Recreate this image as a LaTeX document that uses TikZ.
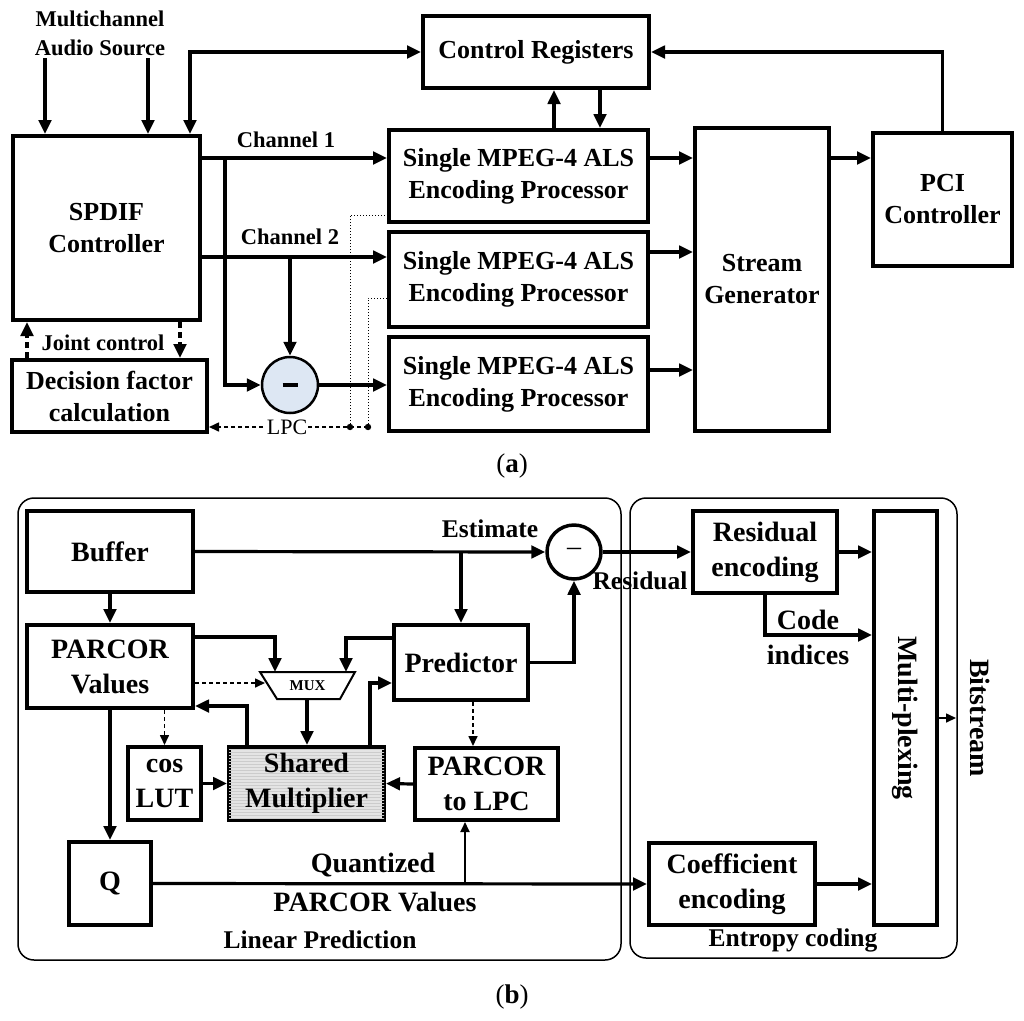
\documentclass[tikz,border=0pt]{standalone}
\usepackage{fontspec}
\setmainfont{Liberation Serif}
\usetikzlibrary{arrows.meta,patterns}
\definecolor{subfill}{RGB}{221,231,243}
\definecolor{mulfill}{RGB}{228,228,228}
\newcommand\ftop{\fontsize{26}{32}\selectfont\bfseries}
\newcommand\flab{\fontsize{22.5}{29}\selectfont\bfseries}
\newcommand\fbot{\fontsize{28}{35}\selectfont\bfseries}
\newcommand\fblab{\fontsize{25.5}{31}\selectfont\bfseries}
\newcommand\fmux{\fontsize{15}{18}\selectfont\bfseries}
\newcommand\flpc{\fontsize{22}{26}\selectfont}

\begin{document}
\begin{tikzpicture}[x=1pt,y=-1pt,
    >={Triangle[length=14pt,width=12.5pt]},
    blk/.style={draw,line width=4pt,align=center,inner sep=2pt},
    arr/.style={line width=3.2pt,->},
    darr/.style={line width=3.2pt,dash pattern=on 6pt off 4pt,->},
    thinarr/.style={line width=1.6pt,-{Triangle[length=10pt,width=9pt]}},
    tdash/.style={line width=1.6pt,dash pattern=on 4pt off 3pt,-{Triangle[length=10pt,width=9pt]}},
    dotline/.style={line width=1pt,dotted},
    frame/.style={line width=1.5pt,rounded corners=16pt},
    lab/.style={align=center,inner sep=1pt}]
\useasboundingbox (0,0) rectangle (1024,1020);

% (a)
\node[lab,font=\flab] (src) at (100,33) {Multichannel\\Audio Source};
\node[blk,font=\ftop,minimum width=187,minimum height=184] (spdif) at (106.5,228) {SPDIF\\Controller};
\node[blk,font=\ftop,minimum width=195,minimum height=72] (dfc) at (109.5,396) {Decision factor\\calculation};
\node[blk,font=\ftop,minimum width=226,minimum height=72] (cr) at (536,52) {Control Registers};
\node[blk,font=\ftop,minimum width=259,minimum height=92] (enc1) at (518.5,176) {Single MPEG-4 ALS\\Encoding Processor};
\node[blk,font=\ftop,minimum width=259,minimum height=95] (enc2) at (518.5,279.5) {Single MPEG-4 ALS\\Encoding Processor};
\node[blk,font=\ftop,minimum width=259,minimum height=94] (enc3) at (518.5,384) {Single MPEG-4 ALS\\Encoding Processor};
\node[blk,font=\ftop,minimum width=134,minimum height=303] (sg) at (762,279.5) {Stream\\Generator};
\node[blk,font=\ftop,minimum width=139,minimum height=133] (pci) at (942.5,199.5) {PCI\\Controller};
\node[circle,draw,line width=2.5pt,fill=subfill,minimum size=56,inner sep=0pt] (sub) at (290,385) {\rule[-2pt]{15pt}{4pt}};

\coordinate (in1) at (45,58);
\coordinate (in2) at (148,58);
\coordinate (ctl) at (190,100);
\coordinate (c1) at ([yshift=18pt]enc1.west);
\coordinate (c2) at ([yshift=22.5pt]enc2.west);
\coordinate (o2) at ([yshift=27.5pt]enc2.east);
\coordinate (o3) at ([yshift=14pt]enc3.east);
\coordinate (u1) at (554,110);
\coordinate (d1) at (600,110);
\coordinate (jc1) at (27,340);
\coordinate (jc2) at (180,340);
\coordinate (dot1) at (350,427);
\coordinate (dot2) at (368,427);
\path (spdif.east |- c1) ++(23,0) coordinate (j1);

\draw[arr] (in1) -- (in1 |- spdif.north);
\draw[arr] (in2) -- (in2 |- spdif.north);
\draw[arr,<->] (ctl |- spdif.north) |- (cr.west);
\draw[arr] (spdif.east |- c1) -- (c1);
\draw[arr] (j1) |- (sub.west);
\draw[arr] (spdif.east |- c2) -- (c2);
\draw[arr] (sub.north |- c2) -- (sub.north);
\draw[arr] (sub.east) -- (sub.east -| enc3.west);
\draw[arr] (c1 -| enc1.east) -- (c1 -| sg.west);
\draw[arr] (o2) -- (o2 -| sg.west);
\draw[arr] (o3) -- (o3 -| sg.west);
\draw[arr] (c1 -| sg.east) -- (c1 -| pci.west);
\draw[arr] (pci.north) |- (cr.east);
\draw[arr] (u1 |- enc1.north) -- (u1 |- cr.south);
\draw[arr] (d1 |- cr.south) -- (d1 |- enc1.north);
\draw[darr] (jc1 |- dfc.north) -- (jc1 |- spdif.south);
\draw[darr] (jc2 |- spdif.south) -- (jc2 |- dfc.north);
\draw[dotline] (dot1) |- ([yshift=-39pt]enc1.west);
\draw[dotline] (dot2) |- ([yshift=-18.5pt]enc2.west);
\draw[tdash] (dot2) -- (dfc.east |- dot2);
\fill (dot1) circle (3.2);
\fill (dot2) circle (3.2);

\node[lab,font=\flab] (ch1) at (286,140) {Channel 1};
\node[lab,font=\flab] (ch2) at (290,237) {Channel 2};
\node[lab,font=\flab] (jc) at (103,343) {Joint control};
\node[lab,font=\flpc,fill=white] (lpc) at (287,427) {LPC};
\node[lab,font=\fontsize{27}{30}\selectfont] (capa) at (512,466) {(\textbf{a})};

% (b)
\draw[frame] (18,498) rectangle (621,960);
\draw[frame] (630,498) rectangle (957,958);

\node[blk,font=\fbot,minimum width=166,minimum height=81] (buf) at (110,551.5) {Buffer};
\node[blk,font=\fbot,minimum width=166,minimum height=83] (pv) at (110,666.5) {PARCOR\\Values};
\node[blk,font=\fbot,minimum width=134,minimum height=75] (pred) at (461,662.5) {Predictor};
\node[blk,font=\fbot,minimum width=73,minimum height=73] (cos) at (164.5,783.5) {cos\\LUT};
\node[blk,font=\fbot,minimum width=155,minimum height=73,fill=mulfill,
      postaction={pattern=horizontal lines,pattern color=black!20}] (sm) at (306.5,783.5) {Shared\\Multiplier};
\node[blk,font=\fbot,minimum width=143,minimum height=72] (ptl) at (486.5,784) {PARCOR\\to LPC};
\node[blk,font=\fbot,minimum width=82,minimum height=83] (q) at (110,883.5) {Q};
\node[circle,draw,line width=3.5pt,minimum size=54,inner sep=0pt,font=\fontsize{28}{28}\selectfont] (dif) at (574,552) {–};
\node[blk,font=\fbot,minimum width=144,minimum height=82] (res) at (765,552) {Residual\\encoding};
\node[blk,font=\fbot,minimum width=166,minimum height=82] (coef) at (732,884) {Coefficient\\encoding};
\node[blk,font=\fbot,minimum width=63,minimum height=414] (mp) at (905.5,718) {\rotatebox{-90}{Multi-plexing}};

\draw[line width=2pt] (260,672) -- (355,672) -- (340,699) -- (277,699) -- cycle;
\node[lab,font=\fmux] (mux) at (307.5,686) {MUX};
\coordinate (muxa) at (275,672);
\coordinate (muxb) at (346,672);
\coordinate (muxl) at (265,683);
\coordinate (muxo) at (307,699);
\coordinate (fb) at (247,706);
\coordinate (fp) at (370,683);
\coordinate (pd) at (473,720);
\coordinate (qb) at (465,850);
\coordinate (ci) at (800,635);
\coordinate (bs) at (956,718);

\draw[arr] (buf.east) -- (dif.west);
\draw[arr] (pred.north |- buf.east) -- (pred.north);
\draw[arr] (buf) -- (pv);
\draw[arr] ([yshift=29.5pt]pv.east) -| (muxa);
\draw[arr] ([yshift=24.5pt]pred.west) -| (muxb);
\draw[tdash] (pv.east |- muxl) -- (muxl);
\draw[arr] (muxo) -- (muxo |- sm.north);
\draw[arr] (fb |- sm.north) |- (pv.east |- fb);
\draw[arr] (fp |- sm.north) |- (pred.west |- fp);
\draw[arr] (pred.east) -| (dif.south);
\draw[tdash] (cos.north |- pv.south) -- (cos.north);
\draw[tdash] (pd |- pred.south) -- (pd |- ptl.north);
\draw[arr] (cos.east) -- (sm.west);
\draw[arr] (ptl.west) -- (sm.east);
\draw[arr] (pv) -- (q);
\draw[arr] (q.east) -- (coef.west);
\draw[thinarr,line width=2pt] (qb |- q.east) -- (qb |- ptl.south);
\draw[arr] (dif.east) -- (res.west);
\draw[arr] (res.east) -- (res.east -| mp.west);
\draw[arr] (res.south) |- (ci -| mp.west);
\draw[arr] (coef.east) -- (coef.east -| mp.west);
\draw[thinarr] (mp.east) -- (bs);

\node[lab,font=\fblab] (est) at (490,529) {Estimate};
\node[lab,font=\fblab] (resl) at (640,581) {Residual};
\node[lab,font=\fbot] (cil) at (808,637.5) {Code\\indices};
\node[lab,font=\fbot] (ql) at (373,865) {Quantized};
\node[lab,font=\fbot] (pql) at (375,902) {PARCOR Values};
\node[lab,font=\fblab] (lpl) at (320,940) {Linear Prediction};
\node[lab,font=\fblab] (ecl) at (793,940) {Entropy coding};
\node[lab,font=\fbot,rotate=-90] (bsl) at (980,718) {Bitstream};
\node[lab,font=\fontsize{27}{30}\selectfont] (capb) at (512,997) {(\textbf{b})};
\end{tikzpicture}
\end{document}
